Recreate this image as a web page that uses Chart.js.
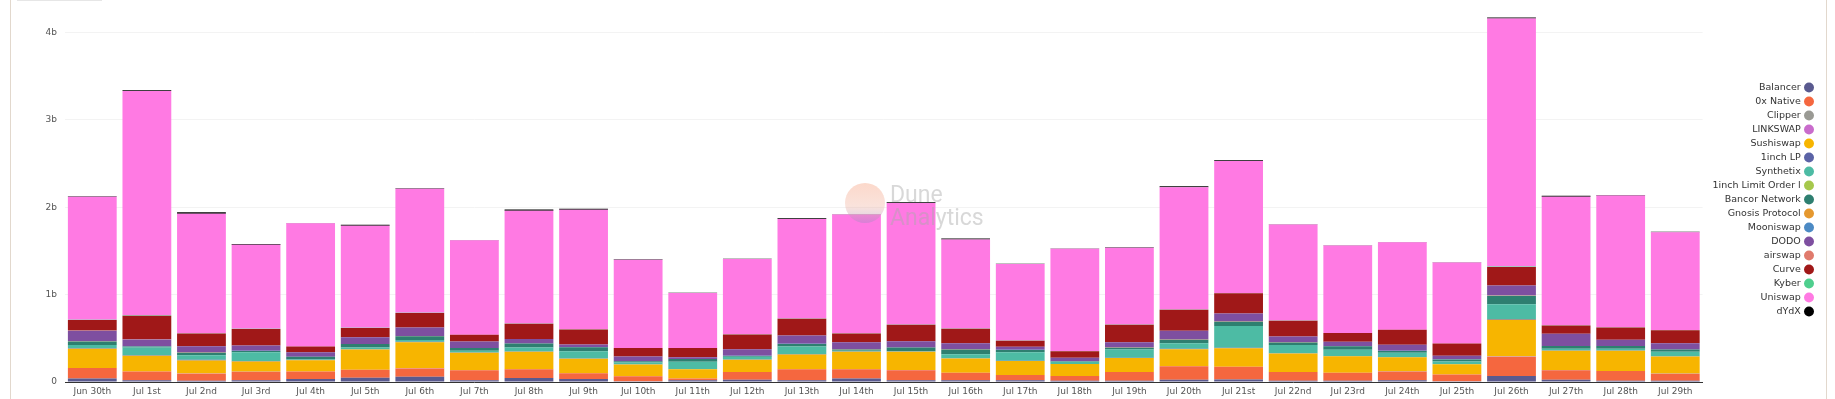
<!DOCTYPE html>
<html>
<head>
<meta charset="utf-8">
<script src="https://cdn.jsdelivr.net/npm/chart.js@4"></script>
<style>
  html, body { margin: 0; padding: 0; background: #fff; }
  #wrap { position: relative; width: 1835px; height: 399px; overflow: hidden; }
  #frame { position: absolute; left: 10px; top: -2px; width: 1815px; height: 410px;
           border-left: 1px solid #e2d8cd; border-right: 1px solid #e2d8cd; }
  #tab { position: absolute; left: 17px; top: 0; width: 85px; height: 1px; background: #e6e6e6; }
  canvas { position: absolute; left: 0; top: 0; }
</style>
</head>
<body>
<div id="wrap">
  <div id="frame"></div>
  <div id="tab"></div>
  <canvas id="chart" width="1835" height="399"></canvas>
</div>
<script>
// volumes in billions USD, per day
var days = ["Jun 30th", "Jul 1st", "Jul 2nd", "Jul 3rd", "Jul 4th", "Jul 5th", "Jul 6th", "Jul 7th",
  "Jul 8th", "Jul 9th", "Jul 10th", "Jul 11th", "Jul 12th", "Jul 13th", "Jul 14th", "Jul 15th",
  "Jul 16th", "Jul 17th", "Jul 18th", "Jul 19th", "Jul 20th", "Jul 21st", "Jul 22nd", "Jul 23rd",
  "Jul 24th", "Jul 25th", "Jul 26th", "Jul 27th", "Jul 28th", "Jul 29th"];

var balancer = [0.04, 0.02, 0.015, 0.02, 0.035, 0.05, 0.06, 0.02, 0.045, 0.035, 0.01, 0.02, 0.025, 0.02, 0.04,
  0.02, 0.02, 0.02, 0.015, 0.015, 0.025, 0.03, 0.015, 0.015, 0.02, 0.01, 0.07, 0.025, 0.015, 0.015];
var zeroX = [0.12, 0.10, 0.08, 0.095, 0.085, 0.09, 0.095, 0.115, 0.10, 0.065, 0.055, 0.02, 0.09, 0.125, 0.105,
  0.115, 0.085, 0.06, 0.055, 0.10, 0.155, 0.145, 0.10, 0.09, 0.10, 0.075, 0.22, 0.11, 0.11, 0.08];
var clipper = [0, 0, 0, 0, 0, 0, 0, 0, 0, 0, 0, 0, 0, 0, 0, 0, 0, 0, 0, 0, 0, 0, 0, 0, 0.002, 0.002, 0.003, 0.002, 0.002, 0.002];
var linkswap = [0.001, 0.001, 0.001, 0.001, 0, 0.001, 0.001, 0, 0.001, 0, 0, 0, 0, 0.001, 0, 0.001, 0, 0, 0, 0, 0.001, 0.001, 0, 0, 0, 0, 0.001, 0, 0, 0];
var sushiswap = [0.22, 0.18, 0.15, 0.12, 0.13, 0.23, 0.30, 0.20, 0.20, 0.165, 0.135, 0.105, 0.14, 0.17, 0.20,
  0.21, 0.165, 0.16, 0.135, 0.16, 0.195, 0.21, 0.21, 0.19, 0.16, 0.115, 0.42, 0.22, 0.23, 0.195];
var oneInchLp = [0.004, 0.004, 0.01, 0.004, 0.003, 0.003, 0.004, 0.003, 0.004, 0.003, 0.002, 0.002, 0.003, 0.004, 0.003,
  0.003, 0.003, 0.002, 0.002, 0.003, 0.004, 0.005, 0.003, 0.003, 0.003, 0.002, 0.006, 0.003, 0.003, 0.003];
var synthetix = [0.04, 0.09, 0.05, 0.10, 0.005, 0.02, 0.02, 0.02, 0.045, 0.085, 0.02, 0.085, 0.03, 0.085, 0.01,
  0.005, 0.045, 0.10, 0.025, 0.095, 0.065, 0.25, 0.095, 0.07, 0.05, 0.03, 0.17, 0.02, 0.02, 0.05];
var oneInchLimit = [0, 0, 0, 0, 0, 0, 0, 0, 0, 0, 0, 0, 0, 0, 0, 0, 0, 0, 0, 0, 0, 0, 0, 0, 0, 0, 0.001, 0.001, 0.001, 0.001];
var bancor = [0.04, 0.01, 0.03, 0.015, 0.03, 0.04, 0.045, 0.03, 0.045, 0.045, 0.015, 0.03, 0.01, 0.03, 0.015,
  0.04, 0.055, 0.025, 0.005, 0.02, 0.04, 0.05, 0.03, 0.04, 0.02, 0.025, 0.095, 0.03, 0.03, 0.025];
var gnosis = [0.001, 0.001, 0.001, 0.001, 0.001, 0.001, 0.001, 0.001, 0.001, 0.001, 0, 0, 0.001, 0.001, 0.001,
  0.001, 0.001, 0, 0, 0.001, 0.001, 0.002, 0.001, 0.001, 0.001, 0, 0.002, 0.001, 0.001, 0.001];
var mooniswap = [0.002, 0.002, 0.001, 0.001, 0.001, 0.001, 0.002, 0.001, 0.001, 0.001, 0.001, 0.001, 0.001, 0.001, 0.001,
  0.001, 0.001, 0.001, 0.001, 0.001, 0.001, 0.001, 0.001, 0.001, 0.001, 0.001, 0.002, 0.001, 0.001, 0.001];
var dodo = [0.12, 0.08, 0.07, 0.06, 0.05, 0.075, 0.095, 0.075, 0.05, 0.03, 0.055, 0.02, 0.075, 0.095, 0.08,
  0.07, 0.07, 0.035, 0.04, 0.06, 0.10, 0.09, 0.065, 0.05, 0.07, 0.04, 0.115, 0.14, 0.07, 0.07];
var airswap = [0.001, 0.001, 0.001, 0, 0, 0.001, 0.001, 0, 0, 0, 0, 0, 0, 0.001, 0, 0, 0, 0, 0, 0, 0, 0.001, 0, 0, 0, 0, 0.001, 0, 0, 0];
var curve = [0.12, 0.27, 0.145, 0.19, 0.065, 0.105, 0.165, 0.075, 0.175, 0.17, 0.095, 0.105, 0.17, 0.19, 0.10,
  0.19, 0.165, 0.07, 0.075, 0.20, 0.24, 0.23, 0.18, 0.10, 0.17, 0.14, 0.21, 0.095, 0.14, 0.15];
var kyber = [0.003, 0.004, 0.003, 0.003, 0.002, 0.003, 0.003, 0.002, 0.003, 0.003, 0.002, 0.002, 0.002, 0.003, 0.002,
  0.003, 0.002, 0.002, 0.002, 0.003, 0.003, 0.004, 0.003, 0.002, 0.002, 0.002, 0.005, 0.003, 0.003, 0.002];
var uniswap = [1.41, 2.57, 1.37, 0.96, 1.41, 1.17, 1.42, 1.08, 1.29, 1.37, 1.01, 0.63, 0.86, 1.14, 1.36,
  1.39, 1.02, 0.875, 1.17, 0.88, 1.40, 1.51, 1.10, 1.0, 1.0, 0.925, 2.84, 1.47, 1.51, 1.12];
var dydx = [0.005, 0.008, 0.015, 0.01, 0.004, 0.01, 0.006, 0.005, 0.015, 0.01, 0.005, 0.003, 0.004, 0.01, 0.004,
  0.01, 0.01, 0.004, 0.004, 0.004, 0.01, 0.01, 0.004, 0.005, 0.004, 0.004, 0.012, 0.01, 0.005, 0.004];

var series = [
  ["Balancer", balancer, "#5a5a8f"],
  ["0x Native", zeroX, "#f5673f"],
  ["Clipper", clipper, "#9a9a94"],
  ["LINKSWAP", linkswap, "#c96ccc"],
  ["Sushiswap", sushiswap, "#f7b500"],
  ["1inch LP", oneInchLp, "#5b63a6"],
  ["Synthetix", synthetix, "#4dbba4"],
  ["1inch Limit Order l", oneInchLimit, "#a6c84c"],
  ["Bancor Network", bancor, "#2e7f70"],
  ["Gnosis Protocol", gnosis, "#e5982f"],
  ["Mooniswap", mooniswap, "#4c8ac4"],
  ["DODO", dodo, "#7e4fa0"],
  ["airswap", airswap, "#e07a6c"],
  ["Curve", curve, "#a01818"],
  ["Kyber", kyber, "#4fcf8e"],
  ["Uniswap", uniswap, "#ff7ae3"],
  ["dYdX", dydx, "#000000"]
];

var datasets = series.map(function (s) {
  return {
    label: s[0],
    data: s[1],
    backgroundColor: s[2],
    borderWidth: 0,
    categoryPercentage: 1,
    barPercentage: 0.894
  };
});

// faded "Dune Analytics" mark in the middle of the plot
var watermark = {
  id: 'watermark',
  afterDatasetsDraw: function (chart) {
    var ctx = chart.ctx;
    ctx.save();
    ctx.globalAlpha = 0.4;
    var g = ctx.createLinearGradient(0, 184, 0, 224);
    g.addColorStop(0, '#f7a07e');
    g.addColorStop(0.55, '#f2b8a6');
    g.addColorStop(1, '#9a86c4');
    ctx.fillStyle = g;
    ctx.beginPath();
    ctx.arc(865, 203, 20, 0, Math.PI * 2);
    ctx.fill();
    ctx.globalAlpha = 0.45;
    ctx.fillStyle = '#a9a9a9';
    ctx.font = '23px Roboto';
    ctx.textBaseline = 'alphabetic';
    ctx.fillText('Dune', 890, 202);
    ctx.fillText('Analytics', 890, 225);
    ctx.restore();
  }
};

var context = document.getElementById('chart').getContext('2d');

var myChart = new Chart(context, {
  type: 'bar',
  data: { labels: days, datasets: datasets },
  plugins: [watermark],
  options: {
    responsive: false,
    animation: false,
    layout: { padding: { top: 0, right: 18, bottom: 0, left: 0 } },
    plugins: {
      tooltip: { enabled: false },
      legend: {
        position: 'right',
        align: 'center',
        rtl: true,
        labels: {
          usePointStyle: true,
          pointStyle: 'circle',
          boxWidth: 7,
          boxHeight: 7,
          padding: 4.5,
          color: '#333',
          font: { family: 'DejaVu Sans', size: 9.5 }
        }
      }
    },
    scales: {
      x: {
        stacked: true,
        afterFit: function (scale) { scale.height = 17; },
        grid: { display: false, drawTicks: false },
        border: { display: true, color: '#333', width: 1 },
        ticks: {
          color: '#555',
          padding: 4,
          maxRotation: 0,
          autoSkip: false,
          font: { family: 'DejaVu Sans', size: 9 }
        }
      },
      y: {
        stacked: true,
        min: 0,
        max: 4.22,
        afterFit: function (scale) { scale.width = 65; },
        afterBuildTicks: function (scale) {
          scale.ticks = [0, 1, 2, 3, 4].map(function (v) { return { value: v }; });
        },
        grid: { color: '#f3f3f3', drawTicks: false },
        border: { display: false },
        ticks: {
          color: '#555',
          padding: 8,
          font: { family: 'DejaVu Sans', size: 9 },
          callback: function (v) { return v === 0 ? '0' : v + 'b'; }
        }
      }
    }
  }
});
</script>
</body>
</html>
